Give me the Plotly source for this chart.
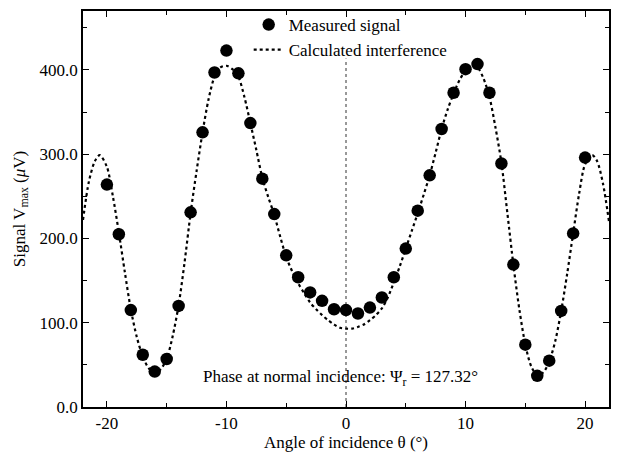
import plotly.graph_objects as go

# Measured signal (angle in degrees, signal in µV)
angles_measured = list(range(-20, 21))
signal_measured = [264, 205, 115, 62, 42, 57, 120, 231, 326, 397,
                   423, 396, 337, 271, 229, 180, 154, 136, 126, 116,
                   115, 111, 118, 130, 154, 188, 233, 275, 330, 373,
                   401, 407, 373, 289, 169, 74, 37, 55, 114, 206, 296]

# Calculated interference
angles_calc = [-22, -21.5, -21, -20.6, -20, -19.5, -19, -18.5, -18, -17.5,
               -17, -16.5, -16, -15.5, -15, -14.5, -14, -13.5, -13, -12.5,
               -12, -11.5, -11, -10.5, -10, -9.5, -9, -8.5, -8, -7.5,
               -7, -6.5, -6, -5.5, -5, -4.5, -4, -3.5, -3, -2.5,
               -2, -1.5, -1, -0.5, 0, 0.5, 1, 1.5, 2, 2.5,
               3, 3.5, 4, 4.5, 5, 5.5, 6, 6.5, 7, 7.5,
               8, 8.5, 9, 9.5, 10, 10.5, 11, 11.5, 12, 12.5,
               13, 13.5, 14, 14.5, 15, 15.5, 16, 16.5, 17, 17.5,
               18, 18.5, 19, 19.5, 20, 20.6, 21, 21.5, 22]
signal_calc = [222, 268, 292, 299, 285, 250, 207, 160, 116, 83,
               60, 46, 41, 45, 57, 84, 121, 172, 230, 280,
               326, 365, 392, 403, 405, 401, 392, 368, 337, 305,
               272, 249, 228, 202, 178, 161, 147, 135, 124, 116,
               109, 103, 98, 94, 93, 93, 95, 98, 103, 109,
               117, 130, 148, 167, 188, 209, 230, 252, 275, 302,
               330, 353, 372, 388, 399, 405, 403, 390, 368, 332,
               290, 230, 169, 116, 74, 48, 38, 41, 54, 78,
               114, 158, 206, 253, 288, 299, 292, 265, 220]

x_tick_vals = [-20, -10, 0, 10, 20]
x_tick_text = ["-20", "-10", "0", "10", "20"]
y_tick_vals = [0, 100, 200, 300, 400]
y_tick_text = ["0.0", "100.0", "200.0", "300.0", "400.0"]

FONT = "Liberation Serif, Times New Roman, serif"
FS = 17

fig = go.Figure()

fig.add_trace(go.Scatter(
    x=angles_calc, y=signal_calc, mode="lines",
    line=dict(color="black", width=2.2, dash="dot", shape="spline", smoothing=0.8),
    name="Calculated interference", legendrank=2,
))
fig.add_trace(go.Scatter(
    x=angles_measured, y=signal_measured, mode="markers",
    marker=dict(color="black", size=12.5, symbol="circle"),
    name="Measured signal", legendrank=1,
))

fig.add_shape(type="line", xref="x", yref="paper", x0=0, x1=0, y0=0, y1=0.88,
              line=dict(color="#333", width=1, dash="dot"), layer="below")

fig.add_annotation(
    x=-0.5, y=34, xref="x", yref="y", showarrow=False,
    text="Phase at normal incidence: Ψ<sub>r</sub> = 127.32°",
    font=dict(family=FONT, size=FS, color="black"),
)

axis_common = dict(
    showline=True, linecolor="black", linewidth=1.5, mirror="ticks",
    ticks="inside", ticklen=6, tickwidth=1.2, tickcolor="black",
    showgrid=False, zeroline=False,
    tickfont=dict(family=FONT, size=FS, color="black"),
)

fig.update_layout(
    width=618, height=454,
    margin=dict(l=83, r=9, t=7, b=47),
    paper_bgcolor="white", plot_bgcolor="white",
    font=dict(family=FONT, size=FS, color="black"),
    xaxis=dict(
        range=[-22, 22], tickvals=x_tick_vals, ticktext=x_tick_text,
        minor=dict(tickvals=[-15, -5, 5, 15], ticks="inside", ticklen=4, tickcolor="black"),
        title=dict(text="Angle of incidence θ (°)", font=dict(family=FONT, size=FS), standoff=2),
        **axis_common,
    ),
    yaxis=dict(
        range=[0, 470], tickvals=y_tick_vals, ticktext=y_tick_text,
        minor=dict(tickvals=[50, 150, 250, 350, 450], ticks="inside", ticklen=4, tickcolor="black"),
        title=dict(text="Signal V<sub>max</sub> (<i>μ</i>V)", font=dict(family=FONT, size=FS), standoff=10),
        **axis_common,
    ),
    legend=dict(
        x=0.315, y=1.01, xanchor="left", yanchor="top",
        bgcolor="rgba(0,0,0,0)", borderwidth=0,
        font=dict(family=FONT, size=FS, color="black"),
        tracegroupgap=0, itemwidth=30,
    ),
    showlegend=True,
)

fig.write_html("out.html")
